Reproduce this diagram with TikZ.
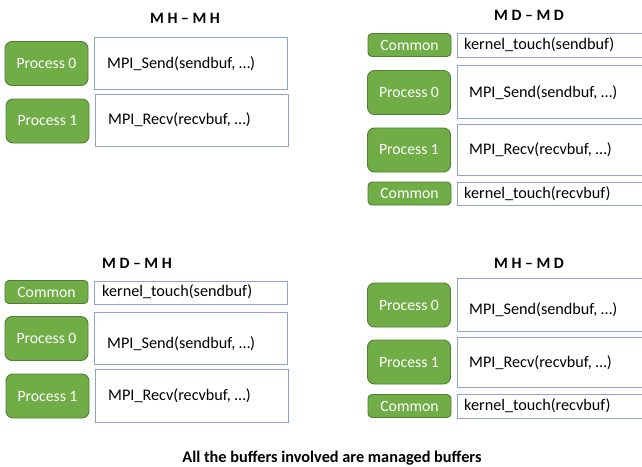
\documentclass[tikz,border=0pt]{standalone}
\usepackage{fontspec}
\setmainfont{Carlito}
\definecolor{procfill}{HTML}{70AD47}
\definecolor{procline}{HTML}{507E32}
\definecolor{boxline}{HTML}{8EA4CC}
\begin{document}
\begin{tikzpicture}[x=1pt,y=-1pt,
  proc/.style={draw=procline, line width=0.9pt, fill=procfill, rounded corners=7pt,
    text=white, font=\fontsize{15.7}{18}\selectfont, minimum width=83pt, inner sep=0pt},
  bigproc/.style={proc, minimum height=44pt},
  smallproc/.style={proc, minimum height=23pt, rounded corners=4pt},
  codebox/.style={draw=boxline, line width=0.8pt, fill=white, anchor=north west, inner sep=0pt},
  codetxt/.style={anchor=west, inner sep=0pt, font=\fontsize{16.2}{19}\selectfont},
  ttl/.style={font=\bfseries\fontsize{15.8}{18}\selectfont},
  foottxt/.style={font=\bfseries\fontsize{16.3}{19}\selectfont},
]
\useasboundingbox (0,0) rectangle (642,466);

% ---------- M H - M H ----------
\node[ttl] (t1) at (185,18) {M H – M H};
\node[bigproc] (a0) at (46.5,63.5) {Process 0};
\node[codebox, minimum width=193pt, minimum height=52pt] (as) at (94,37) {};
\node[codetxt] (ast) at (107,64) {MPI\_Send(sendbuf, …)};
\node[bigproc] (a1) at (47.5,121) {Process 1};
\node[codebox, minimum width=193pt, minimum height=52pt] (ar) at (95,94) {};
\node[codetxt] (art) at (108,120) {MPI\_Recv(recvbuf, …)};

% ---------- M D - M D ----------
\node[ttl] (t2) at (529,15) {M D – M D};
\node[smallproc] (bc0) at (409.5,45) {Common};
\node[codebox, minimum width=190pt, minimum height=24pt] (bk0) at (457,33) {};
\node[codetxt] (bk0t) at (464,45) {kernel\_touch(sendbuf)};
\node[bigproc] (b0) at (409,92.5) {Process 0};
\node[codebox, minimum width=190pt, minimum height=53pt] (bs) at (457,65) {};
\node[codetxt] (bst) at (469,92.5) {MPI\_Send(sendbuf, …)};
\node[bigproc] (b1) at (409,150) {Process 1};
\node[codebox, minimum width=190pt, minimum height=51pt] (br) at (457,124) {};
\node[codetxt] (brt) at (469,150) {MPI\_Recv(recvbuf, …)};
\node[smallproc] (bc1) at (409.5,193.5) {Common};
\node[codebox, minimum width=190pt, minimum height=23pt] (bk1) at (457,182) {};
\node[codetxt] (bk1t) at (464,194) {kernel\_touch(recvbuf)};

% ---------- M D - M H ----------
\node[ttl] (t3) at (137,263) {M D – M H};
\node[smallproc] (cc0) at (46.5,292) {Common};
\node[codebox, minimum width=193pt, minimum height=23pt] (ck0) at (94,280.5) {};
\node[codetxt] (ck0t) at (102,292) {kernel\_touch(sendbuf)};
\node[bigproc] (c0) at (46.5,338.5) {Process 0};
\node[codebox, minimum width=193pt, minimum height=52pt] (cs) at (94,312) {};
\node[codetxt] (cst) at (107,344) {MPI\_Send(sendbuf, …)};
\node[bigproc] (c1) at (47.5,396) {Process 1};
\node[codebox, minimum width=193pt, minimum height=53pt] (cr) at (95,369) {};
\node[codetxt] (crt) at (108,396) {MPI\_Recv(recvbuf, …)};

% ---------- M H - M D ----------
\node[ttl] (t4) at (529,263) {M H – M D};
\node[bigproc] (d0) at (409,305) {Process 0};
\node[codebox, minimum width=190pt, minimum height=53pt] (ds) at (457,278) {};
\node[codetxt] (dst) at (469,310) {MPI\_Send(sendbuf, …)};
\node[bigproc] (d1) at (409,362) {Process 1};
\node[codebox, minimum width=190pt, minimum height=50pt] (dr) at (457,337) {};
\node[codetxt] (drt) at (469,363) {MPI\_Recv(recvbuf, …)};
\node[smallproc] (dc1) at (409.5,406) {Common};
\node[codebox, minimum width=190pt, minimum height=24pt] (dk1) at (457,394) {};
\node[codetxt] (dk1t) at (464,406) {kernel\_touch(recvbuf)};

% ---------- footer ----------
\node[foottxt] (foot) at (332,458) {All the buffers involved are managed buffers};
\end{tikzpicture}
\end{document}
